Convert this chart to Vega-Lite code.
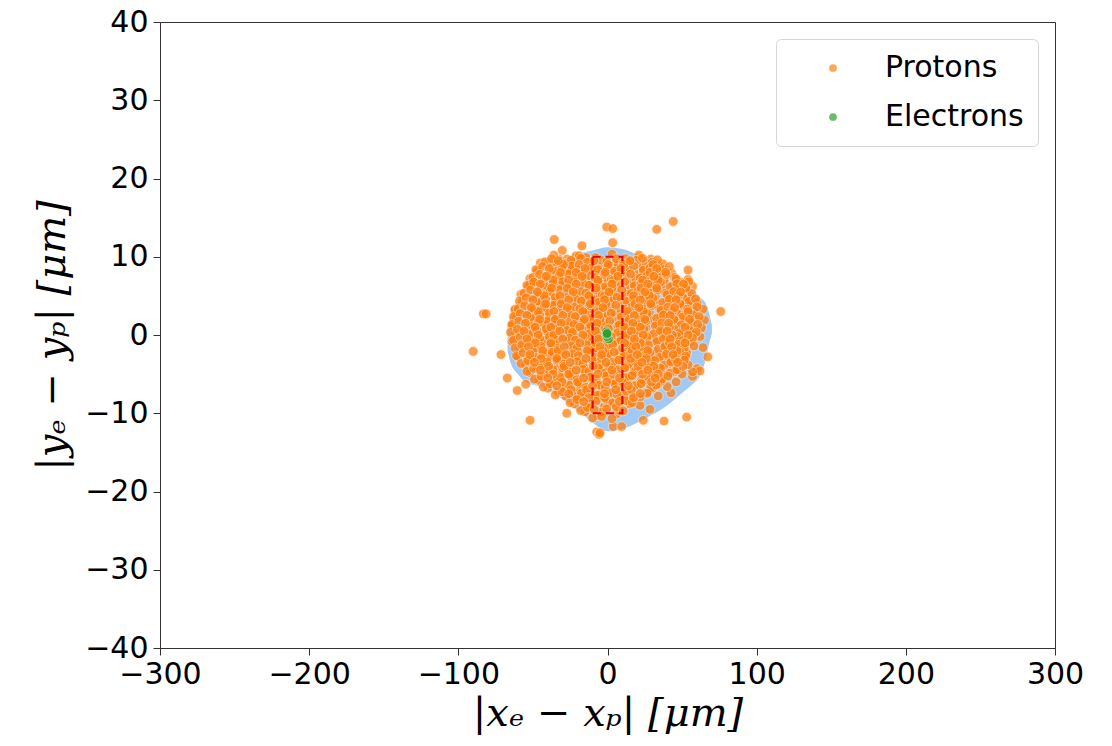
{
  "$schema": "https://vega.github.io/schema/vega-lite/v6.json",
  "width": 895,
  "height": 626,
  "autosize": "none",
  "padding": {"left": 160, "top": 22, "right": 57, "bottom": 98},
  "background": "white",
  "datasets": {
    "kde": [
      {"bx": -67, "top": 1.0, "bot": -2.0},
      {"bx": -65, "top": 2.5, "bot": -3.5},
      {"bx": -60, "top": 4.5, "bot": -5.0},
      {"bx": -55, "top": 6.0, "bot": -6.0},
      {"bx": -47, "top": 7.2, "bot": -6.5},
      {"bx": -40, "top": 8.2, "bot": -7.0},
      {"bx": -32, "top": 9.3, "bot": -8.0},
      {"bx": -25, "top": 10.2, "bot": -9.0},
      {"bx": -18, "top": 10.5, "bot": -10.0},
      {"bx": -10, "top": 10.8, "bot": -11.2},
      {"bx": 0, "top": 11.2, "bot": -12.3},
      {"bx": 10, "top": 11.0, "bot": -12.0},
      {"bx": 20, "top": 10.3, "bot": -11.2},
      {"bx": 30, "top": 9.6, "bot": -10.2},
      {"bx": 40, "top": 8.4, "bot": -9.0},
      {"bx": 50, "top": 6.8, "bot": -7.4},
      {"bx": 57, "top": 5.6, "bot": -6.3},
      {"bx": 62, "top": 4.8, "bot": -5.2},
      {"bx": 66, "top": 4.0, "bot": -3.0},
      {"bx": 68.5, "top": 2.5, "bot": -0.8},
      {"bx": 70, "top": 1.2, "bot": 0.2}
    ],
    "box": [{"x1": -10, "x2": 10, "y1": -10, "y2": 10}],
    "pts": [
      {"x":-0.5,"y":13.8,"type":"Protons"},{"x":-35.7,"y":12.2,"type":"Protons"},{"x":-17.1,"y":11.4,"type":"Protons"},{"x":-30.3,"y":10.8,"type":"Protons"},{"x":-39.7,"y":9.3,"type":"Protons"},{"x":-32.5,"y":9.7,"type":"Protons"},{"x":-51.3,"y":6.5,"type":"Protons"},{"x":-83.2,"y":2.7,"type":"Protons"},{"x":-81.4,"y":2.7,"type":"Protons"},{"x":-62,"y":3.3,"type":"Protons"},{"x":-21.1,"y":10.1,"type":"Protons"},{"x":-14.4,"y":9.9,"type":"Protons"},{"x":3.5,"y":13.6,"type":"Protons"},{"x":33,"y":13.5,"type":"Protons"},{"x":44.1,"y":14.5,"type":"Protons"},{"x":3.5,"y":11.8,"type":"Protons"},{"x":54,"y":8.3,"type":"Protons"},{"x":54,"y":7.1,"type":"Protons"},{"x":75.9,"y":3.0,"type":"Protons"},{"x":33.8,"y":7.3,"type":"Protons"},{"x":45.7,"y":7.0,"type":"Protons"},{"x":45.7,"y":5.75,"type":"Protons"},{"x":-90,"y":-2.1,"type":"Protons"},{"x":-71.4,"y":-2.5,"type":"Protons"},{"x":-67.2,"y":-5.5,"type":"Protons"},{"x":-60.5,"y":-7.1,"type":"Protons"},{"x":-54.8,"y":-6.3,"type":"Protons"},{"x":-51.9,"y":-10.9,"type":"Protons"},{"x":-27.3,"y":-10,"type":"Protons"},{"x":-7.2,"y":-12.4,"type":"Protons"},{"x":-5.5,"y":-12.7,"type":"Protons"},{"x":67.2,"y":-2.8,"type":"Protons"},{"x":42.6,"y":-7.4,"type":"Protons"},{"x":28.5,"y":-9.5,"type":"Protons"},{"x":37.9,"y":-11,"type":"Protons"},{"x":53.1,"y":-10.5,"type":"Protons"},{"x":24,"y":-10.9,"type":"Protons"},{"x":3.9,"y":-11.7,"type":"Protons"},{"x":9.5,"y":-11.7,"type":"Protons"},{"x":-5,"y":-12.5,"type":"Protons"},
      {"x":62,"y":-0.2,"type":"Protons"},{"x":64,"y":-1.6,"type":"Protons"},{"x":60,"y":-4.3,"type":"Protons"},{"x":62,"y":-4.6,"type":"Protons"},{"x":57,"y":-5.3,"type":"Protons"},{"x":60,"y":4.1,"type":"Protons"},{"x":64,"y":3.3,"type":"Protons"},{"x":54,"y":4.7,"type":"Protons"},
      {"x":53,"y":-2.3,"type":"Protons"},{"x":48.6,"y":-3.2,"type":"Protons"},{"x":57,"y":-4.7,"type":"Protons"},{"x":21.8,"y":-9,"type":"Protons"},{"x":46,"y":-6,"type":"Protons"},{"x":50,"y":-5,"type":"Protons"},{"x":40,"y":-6.6,"type":"Protons"},{"x":34,"y":-7.8,"type":"Protons"},
      {"x":-36,"y":10.2,"type":"Protons"},{"x":-27,"y":9.7,"type":"Protons"},{"x":-19,"y":10.1,"type":"Protons"},{"x":-8,"y":9.9,"type":"Protons"},{"x":3,"y":10.35,"type":"Protons"},{"x":12,"y":9.75,"type":"Protons"},{"x":21,"y":10.2,"type":"Protons"},{"x":29,"y":9.7,"type":"Protons"},
      {"x":-45,"y":9.2,"type":"Protons"},{"x":-38,"y":8.7,"type":"Protons"},{"x":-34,"y":9.1,"type":"Protons"},{"x":-25,"y":8.9,"type":"Protons"},{"x":-23,"y":9.35,"type":"Protons"},{"x":-15,"y":8.75,"type":"Protons"},{"x":-8,"y":9.2,"type":"Protons"},{"x":-4,"y":8.7,"type":"Protons"},{"x":5,"y":9.1,"type":"Protons"},{"x":7,"y":8.9,"type":"Protons"},{"x":15,"y":9.35,"type":"Protons"},{"x":22,"y":8.75,"type":"Protons"},{"x":26,"y":9.2,"type":"Protons"},{"x":35,"y":8.7,"type":"Protons"},{"x":37,"y":9.1,"type":"Protons"},
      {"x":-47,"y":8.2,"type":"Protons"},{"x":-40,"y":7.7,"type":"Protons"},{"x":-36,"y":8.1,"type":"Protons"},{"x":-27,"y":7.9,"type":"Protons"},{"x":-25,"y":8.35,"type":"Protons"},{"x":-17,"y":7.75,"type":"Protons"},{"x":-10,"y":8.2,"type":"Protons"},{"x":-6,"y":7.7,"type":"Protons"},{"x":3,"y":8.1,"type":"Protons"},{"x":5,"y":7.9,"type":"Protons"},{"x":13,"y":8.35,"type":"Protons"},{"x":20,"y":7.75,"type":"Protons"},{"x":24,"y":8.2,"type":"Protons"},{"x":33,"y":7.7,"type":"Protons"},{"x":35,"y":8.1,"type":"Protons"},{"x":43,"y":7.9,"type":"Protons"},
      {"x":-52,"y":7.2,"type":"Protons"},{"x":-45,"y":6.7,"type":"Protons"},{"x":-41,"y":7.1,"type":"Protons"},{"x":-32,"y":6.9,"type":"Protons"},{"x":-30,"y":7.35,"type":"Protons"},{"x":-22,"y":6.75,"type":"Protons"},{"x":-15,"y":7.2,"type":"Protons"},{"x":-11,"y":6.7,"type":"Protons"},{"x":-2,"y":7.1,"type":"Protons"},{"x":0,"y":6.9,"type":"Protons"},{"x":8,"y":7.35,"type":"Protons"},{"x":15,"y":6.75,"type":"Protons"},{"x":19,"y":7.2,"type":"Protons"},{"x":28,"y":6.7,"type":"Protons"},{"x":30,"y":7.1,"type":"Protons"},{"x":38,"y":6.9,"type":"Protons"},{"x":45,"y":7.35,"type":"Protons"},{"x":49,"y":6.75,"type":"Protons"},
      {"x":-53,"y":6.2,"type":"Protons"},{"x":-46,"y":5.7,"type":"Protons"},{"x":-42,"y":6.1,"type":"Protons"},{"x":-33,"y":5.9,"type":"Protons"},{"x":-31,"y":6.35,"type":"Protons"},{"x":-23,"y":5.75,"type":"Protons"},{"x":-16,"y":6.2,"type":"Protons"},{"x":-12,"y":5.7,"type":"Protons"},{"x":-3,"y":6.1,"type":"Protons"},{"x":-1,"y":5.9,"type":"Protons"},{"x":7,"y":6.35,"type":"Protons"},{"x":14,"y":5.75,"type":"Protons"},{"x":18,"y":6.2,"type":"Protons"},{"x":27,"y":5.7,"type":"Protons"},{"x":29,"y":6.1,"type":"Protons"},{"x":37,"y":5.9,"type":"Protons"},{"x":44,"y":6.35,"type":"Protons"},{"x":48,"y":5.75,"type":"Protons"},{"x":57,"y":6.2,"type":"Protons"},
      {"x":-58,"y":5.2,"type":"Protons"},{"x":-51,"y":4.7,"type":"Protons"},{"x":-47,"y":5.1,"type":"Protons"},{"x":-38,"y":4.9,"type":"Protons"},{"x":-36,"y":5.35,"type":"Protons"},{"x":-28,"y":4.75,"type":"Protons"},{"x":-21,"y":5.2,"type":"Protons"},{"x":-17,"y":4.7,"type":"Protons"},{"x":-8,"y":5.1,"type":"Protons"},{"x":-6,"y":4.9,"type":"Protons"},{"x":2,"y":5.35,"type":"Protons"},{"x":9,"y":4.75,"type":"Protons"},{"x":13,"y":5.2,"type":"Protons"},{"x":22,"y":4.7,"type":"Protons"},{"x":24,"y":5.1,"type":"Protons"},{"x":32,"y":4.9,"type":"Protons"},{"x":39,"y":5.35,"type":"Protons"},{"x":43,"y":4.75,"type":"Protons"},{"x":52,"y":5.2,"type":"Protons"},{"x":54,"y":4.7,"type":"Protons"},
      {"x":-57,"y":4.2,"type":"Protons"},{"x":-50,"y":3.7,"type":"Protons"},{"x":-46,"y":4.1,"type":"Protons"},{"x":-37,"y":3.9,"type":"Protons"},{"x":-35,"y":4.35,"type":"Protons"},{"x":-27,"y":3.75,"type":"Protons"},{"x":-20,"y":4.2,"type":"Protons"},{"x":-16,"y":3.7,"type":"Protons"},{"x":-7,"y":4.1,"type":"Protons"},{"x":-5,"y":3.9,"type":"Protons"},{"x":3,"y":4.35,"type":"Protons"},{"x":10,"y":3.75,"type":"Protons"},{"x":14,"y":4.2,"type":"Protons"},{"x":23,"y":3.7,"type":"Protons"},{"x":25,"y":4.1,"type":"Protons"},{"x":33,"y":3.9,"type":"Protons"},{"x":40,"y":4.35,"type":"Protons"},{"x":44,"y":3.75,"type":"Protons"},{"x":53,"y":4.2,"type":"Protons"},{"x":55,"y":3.7,"type":"Protons"},
      {"x":-62,"y":3.2,"type":"Protons"},{"x":-55,"y":2.7,"type":"Protons"},{"x":-51,"y":3.1,"type":"Protons"},{"x":-42,"y":2.9,"type":"Protons"},{"x":-40,"y":3.35,"type":"Protons"},{"x":-32,"y":2.75,"type":"Protons"},{"x":-25,"y":3.2,"type":"Protons"},{"x":-21,"y":2.7,"type":"Protons"},{"x":-12,"y":3.1,"type":"Protons"},{"x":-10,"y":2.9,"type":"Protons"},{"x":-2,"y":3.35,"type":"Protons"},{"x":5,"y":2.75,"type":"Protons"},{"x":9,"y":3.2,"type":"Protons"},{"x":18,"y":2.7,"type":"Protons"},{"x":20,"y":3.1,"type":"Protons"},{"x":28,"y":2.9,"type":"Protons"},{"x":35,"y":3.35,"type":"Protons"},{"x":39,"y":2.75,"type":"Protons"},{"x":48,"y":3.2,"type":"Protons"},{"x":50,"y":2.7,"type":"Protons"},{"x":58,"y":3.1,"type":"Protons"},
      {"x":-61,"y":2.2,"type":"Protons"},{"x":-54,"y":1.7,"type":"Protons"},{"x":-50,"y":2.1,"type":"Protons"},{"x":-41,"y":1.9,"type":"Protons"},{"x":-39,"y":2.35,"type":"Protons"},{"x":-31,"y":1.75,"type":"Protons"},{"x":-24,"y":2.2,"type":"Protons"},{"x":-20,"y":1.7,"type":"Protons"},{"x":-11,"y":2.1,"type":"Protons"},{"x":-9,"y":1.9,"type":"Protons"},{"x":-1,"y":2.35,"type":"Protons"},{"x":6,"y":1.75,"type":"Protons"},{"x":10,"y":2.2,"type":"Protons"},{"x":19,"y":1.7,"type":"Protons"},{"x":21,"y":2.1,"type":"Protons"},{"x":29,"y":1.9,"type":"Protons"},{"x":36,"y":2.35,"type":"Protons"},{"x":40,"y":1.75,"type":"Protons"},{"x":49,"y":2.2,"type":"Protons"},{"x":51,"y":1.7,"type":"Protons"},{"x":59,"y":2.1,"type":"Protons"},{"x":65,"y":1.9,"type":"Protons"},
      {"x":-64,"y":1.2,"type":"Protons"},{"x":-57,"y":0.7,"type":"Protons"},{"x":-53,"y":1.1,"type":"Protons"},{"x":-44,"y":0.9,"type":"Protons"},{"x":-42,"y":1.35,"type":"Protons"},{"x":-34,"y":0.75,"type":"Protons"},{"x":-27,"y":1.2,"type":"Protons"},{"x":-23,"y":0.7,"type":"Protons"},{"x":-14,"y":1.1,"type":"Protons"},{"x":-12,"y":0.9,"type":"Protons"},{"x":-4,"y":1.35,"type":"Protons"},{"x":3,"y":0.75,"type":"Protons"},{"x":7,"y":1.2,"type":"Protons"},{"x":16,"y":0.7,"type":"Protons"},{"x":18,"y":1.1,"type":"Protons"},{"x":26,"y":0.9,"type":"Protons"},{"x":33,"y":1.35,"type":"Protons"},{"x":37,"y":0.75,"type":"Protons"},{"x":46,"y":1.2,"type":"Protons"},{"x":48,"y":0.7,"type":"Protons"},{"x":56,"y":1.1,"type":"Protons"},{"x":63,"y":0.9,"type":"Protons"},
      {"x":-62,"y":0.2,"type":"Protons"},{"x":-55,"y":-0.3,"type":"Protons"},{"x":-51,"y":0.1,"type":"Protons"},{"x":-42,"y":-0.1,"type":"Protons"},{"x":-40,"y":0.35,"type":"Protons"},{"x":-32,"y":-0.25,"type":"Protons"},{"x":-25,"y":0.2,"type":"Protons"},{"x":-21,"y":-0.3,"type":"Protons"},{"x":-12,"y":0.1,"type":"Protons"},{"x":-10,"y":-0.1,"type":"Protons"},{"x":-2,"y":0.35,"type":"Protons"},{"x":5,"y":-0.25,"type":"Protons"},{"x":9,"y":0.2,"type":"Protons"},{"x":18,"y":-0.3,"type":"Protons"},{"x":20,"y":0.1,"type":"Protons"},{"x":28,"y":-0.1,"type":"Protons"},{"x":35,"y":0.35,"type":"Protons"},{"x":39,"y":-0.25,"type":"Protons"},{"x":48,"y":0.2,"type":"Protons"},{"x":50,"y":-0.3,"type":"Protons"},{"x":58,"y":0.1,"type":"Protons"},
      {"x":-64,"y":-0.8,"type":"Protons"},{"x":-57,"y":-1.3,"type":"Protons"},{"x":-53,"y":-0.9,"type":"Protons"},{"x":-44,"y":-1.1,"type":"Protons"},{"x":-42,"y":-0.65,"type":"Protons"},{"x":-34,"y":-1.25,"type":"Protons"},{"x":-27,"y":-0.8,"type":"Protons"},{"x":-23,"y":-1.3,"type":"Protons"},{"x":-14,"y":-0.9,"type":"Protons"},{"x":-12,"y":-1.1,"type":"Protons"},{"x":-4,"y":-0.65,"type":"Protons"},{"x":3,"y":-1.25,"type":"Protons"},{"x":7,"y":-0.8,"type":"Protons"},{"x":16,"y":-1.3,"type":"Protons"},{"x":18,"y":-0.9,"type":"Protons"},{"x":26,"y":-1.1,"type":"Protons"},{"x":33,"y":-0.65,"type":"Protons"},{"x":37,"y":-1.25,"type":"Protons"},{"x":46,"y":-0.8,"type":"Protons"},{"x":48,"y":-1.3,"type":"Protons"},{"x":56,"y":-0.9,"type":"Protons"},
      {"x":-59,"y":-1.8,"type":"Protons"},{"x":-52,"y":-2.3,"type":"Protons"},{"x":-48,"y":-1.9,"type":"Protons"},{"x":-39,"y":-2.1,"type":"Protons"},{"x":-37,"y":-1.65,"type":"Protons"},{"x":-29,"y":-2.25,"type":"Protons"},{"x":-22,"y":-1.8,"type":"Protons"},{"x":-18,"y":-2.3,"type":"Protons"},{"x":-9,"y":-1.9,"type":"Protons"},{"x":-7,"y":-2.1,"type":"Protons"},{"x":1,"y":-1.65,"type":"Protons"},{"x":8,"y":-2.25,"type":"Protons"},{"x":12,"y":-1.8,"type":"Protons"},{"x":21,"y":-2.3,"type":"Protons"},{"x":23,"y":-1.9,"type":"Protons"},{"x":31,"y":-2.1,"type":"Protons"},{"x":38,"y":-1.65,"type":"Protons"},{"x":42,"y":-2.25,"type":"Protons"},{"x":51,"y":-1.8,"type":"Protons"},{"x":53,"y":-2.3,"type":"Protons"},
      {"x":-60,"y":-2.8,"type":"Protons"},{"x":-53,"y":-3.3,"type":"Protons"},{"x":-49,"y":-2.9,"type":"Protons"},{"x":-40,"y":-3.1,"type":"Protons"},{"x":-38,"y":-2.65,"type":"Protons"},{"x":-30,"y":-3.25,"type":"Protons"},{"x":-23,"y":-2.8,"type":"Protons"},{"x":-19,"y":-3.3,"type":"Protons"},{"x":-10,"y":-2.9,"type":"Protons"},{"x":-8,"y":-3.1,"type":"Protons"},{"x":0,"y":-2.65,"type":"Protons"},{"x":7,"y":-3.25,"type":"Protons"},{"x":11,"y":-2.8,"type":"Protons"},{"x":20,"y":-3.3,"type":"Protons"},{"x":22,"y":-2.9,"type":"Protons"},{"x":30,"y":-3.1,"type":"Protons"},{"x":37,"y":-2.65,"type":"Protons"},{"x":41,"y":-3.25,"type":"Protons"},{"x":50,"y":-2.8,"type":"Protons"},{"x":52,"y":-3.3,"type":"Protons"},
      {"x":-55,"y":-3.8,"type":"Protons"},{"x":-48,"y":-4.3,"type":"Protons"},{"x":-44,"y":-3.9,"type":"Protons"},{"x":-35,"y":-4.1,"type":"Protons"},{"x":-33,"y":-3.65,"type":"Protons"},{"x":-25,"y":-4.25,"type":"Protons"},{"x":-18,"y":-3.8,"type":"Protons"},{"x":-14,"y":-4.3,"type":"Protons"},{"x":-5,"y":-3.9,"type":"Protons"},{"x":-3,"y":-4.1,"type":"Protons"},{"x":5,"y":-3.65,"type":"Protons"},{"x":12,"y":-4.25,"type":"Protons"},{"x":16,"y":-3.8,"type":"Protons"},{"x":25,"y":-4.3,"type":"Protons"},{"x":27,"y":-3.9,"type":"Protons"},{"x":35,"y":-4.1,"type":"Protons"},{"x":42,"y":-3.65,"type":"Protons"},{"x":46,"y":-4.25,"type":"Protons"},{"x":54,"y":-3.8,"type":"Protons"},
      {"x":-52,"y":-4.8,"type":"Protons"},{"x":-45,"y":-5.3,"type":"Protons"},{"x":-41,"y":-4.9,"type":"Protons"},{"x":-32,"y":-5.1,"type":"Protons"},{"x":-30,"y":-4.65,"type":"Protons"},{"x":-22,"y":-5.25,"type":"Protons"},{"x":-15,"y":-4.8,"type":"Protons"},{"x":-11,"y":-5.3,"type":"Protons"},{"x":-2,"y":-4.9,"type":"Protons"},{"x":0,"y":-5.1,"type":"Protons"},{"x":8,"y":-4.65,"type":"Protons"},{"x":15,"y":-5.25,"type":"Protons"},{"x":19,"y":-4.8,"type":"Protons"},{"x":28,"y":-5.3,"type":"Protons"},{"x":30,"y":-4.9,"type":"Protons"},{"x":38,"y":-5.1,"type":"Protons"},{"x":45,"y":-4.65,"type":"Protons"},
      {"x":-46,"y":-5.8,"type":"Protons"},{"x":-39,"y":-6.3,"type":"Protons"},{"x":-35,"y":-5.9,"type":"Protons"},{"x":-26,"y":-6.1,"type":"Protons"},{"x":-24,"y":-5.65,"type":"Protons"},{"x":-16,"y":-6.25,"type":"Protons"},{"x":-9,"y":-5.8,"type":"Protons"},{"x":-5,"y":-6.3,"type":"Protons"},{"x":4,"y":-5.9,"type":"Protons"},{"x":6,"y":-6.1,"type":"Protons"},{"x":14,"y":-5.65,"type":"Protons"},{"x":21,"y":-6.25,"type":"Protons"},{"x":25,"y":-5.8,"type":"Protons"},{"x":34,"y":-6.3,"type":"Protons"},{"x":36,"y":-5.9,"type":"Protons"},
      {"x":-40,"y":-6.8,"type":"Protons"},{"x":-33,"y":-7.3,"type":"Protons"},{"x":-29,"y":-6.9,"type":"Protons"},{"x":-20,"y":-7.1,"type":"Protons"},{"x":-18,"y":-6.65,"type":"Protons"},{"x":-10,"y":-7.25,"type":"Protons"},{"x":-3,"y":-6.8,"type":"Protons"},{"x":1,"y":-7.3,"type":"Protons"},{"x":10,"y":-6.9,"type":"Protons"},{"x":12,"y":-7.1,"type":"Protons"},{"x":20,"y":-6.65,"type":"Protons"},{"x":27,"y":-7.25,"type":"Protons"},{"x":30,"y":-6.8,"type":"Protons"},
      {"x":-28,"y":-7.8,"type":"Protons"},{"x":-21,"y":-8.3,"type":"Protons"},{"x":-17,"y":-7.9,"type":"Protons"},{"x":-8,"y":-8.1,"type":"Protons"},{"x":-6,"y":-7.65,"type":"Protons"},{"x":2,"y":-8.25,"type":"Protons"},{"x":9,"y":-7.8,"type":"Protons"},{"x":13,"y":-8.3,"type":"Protons"},{"x":22,"y":-7.9,"type":"Protons"},
      {"x":-22,"y":-8.8,"type":"Protons"},{"x":-15,"y":-9.3,"type":"Protons"},{"x":-11,"y":-8.9,"type":"Protons"},{"x":-2,"y":-9.1,"type":"Protons"},{"x":0,"y":-8.65,"type":"Protons"},{"x":8,"y":-9.25,"type":"Protons"},{"x":15,"y":-8.8,"type":"Protons"},
      {"x":-15,"y":-9.8,"type":"Protons"},{"x":-7,"y":-10.3,"type":"Protons"},{"x":-3,"y":-9.9,"type":"Protons"},{"x":6,"y":-10.1,"type":"Protons"},{"x":8,"y":-9.65,"type":"Protons"},
      {"x":-42,"y":9.35,"type":"Protons"},{"x":-37.5,"y":9.75,"type":"Protons"},{"x":-28.5,"y":9.15,"type":"Protons"},{"x":-24.5,"y":9.55,"type":"Protons"},{"x":-18,"y":9.8,"type":"Protons"},{"x":-13.5,"y":9.3,"type":"Protons"},{"x":-4.5,"y":9.6,"type":"Protons"},{"x":-0.5,"y":9.35,"type":"Protons"},{"x":6,"y":9.75,"type":"Protons"},{"x":10.5,"y":9.15,"type":"Protons"},{"x":19.5,"y":9.55,"type":"Protons"},{"x":23.5,"y":9.8,"type":"Protons"},{"x":30,"y":9.3,"type":"Protons"},{"x":33.5,"y":9.6,"type":"Protons"},
      {"x":-48,"y":8.35,"type":"Protons"},{"x":-43.5,"y":8.75,"type":"Protons"},{"x":-34.5,"y":8.15,"type":"Protons"},{"x":-30.5,"y":8.55,"type":"Protons"},{"x":-24,"y":8.8,"type":"Protons"},{"x":-19.5,"y":8.3,"type":"Protons"},{"x":-10.5,"y":8.6,"type":"Protons"},{"x":-6.5,"y":8.35,"type":"Protons"},{"x":0,"y":8.75,"type":"Protons"},{"x":4.5,"y":8.15,"type":"Protons"},{"x":13.5,"y":8.55,"type":"Protons"},{"x":17.5,"y":8.8,"type":"Protons"},{"x":24,"y":8.3,"type":"Protons"},{"x":28.5,"y":8.6,"type":"Protons"},{"x":37.5,"y":8.35,"type":"Protons"},{"x":41.5,"y":8.75,"type":"Protons"},
      {"x":-50,"y":7.35,"type":"Protons"},{"x":-45.5,"y":7.75,"type":"Protons"},{"x":-36.5,"y":7.15,"type":"Protons"},{"x":-32.5,"y":7.55,"type":"Protons"},{"x":-26,"y":7.8,"type":"Protons"},{"x":-21.5,"y":7.3,"type":"Protons"},{"x":-12.5,"y":7.6,"type":"Protons"},{"x":-8.5,"y":7.35,"type":"Protons"},{"x":-2,"y":7.75,"type":"Protons"},{"x":2.5,"y":7.15,"type":"Protons"},{"x":11.5,"y":7.55,"type":"Protons"},{"x":15.5,"y":7.8,"type":"Protons"},{"x":22,"y":7.3,"type":"Protons"},{"x":26.5,"y":7.6,"type":"Protons"},{"x":35.5,"y":7.35,"type":"Protons"},{"x":39.5,"y":7.75,"type":"Protons"},{"x":46,"y":7.15,"type":"Protons"},
      {"x":-54,"y":6.35,"type":"Protons"},{"x":-49.5,"y":6.75,"type":"Protons"},{"x":-40.5,"y":6.15,"type":"Protons"},{"x":-36.5,"y":6.55,"type":"Protons"},{"x":-30,"y":6.8,"type":"Protons"},{"x":-25.5,"y":6.3,"type":"Protons"},{"x":-16.5,"y":6.6,"type":"Protons"},{"x":-12.5,"y":6.35,"type":"Protons"},{"x":-6,"y":6.75,"type":"Protons"},{"x":-1.5,"y":6.15,"type":"Protons"},{"x":7.5,"y":6.55,"type":"Protons"},{"x":11.5,"y":6.8,"type":"Protons"},{"x":18,"y":6.3,"type":"Protons"},{"x":22.5,"y":6.6,"type":"Protons"},{"x":31.5,"y":6.35,"type":"Protons"},{"x":35.5,"y":6.75,"type":"Protons"},{"x":42,"y":6.15,"type":"Protons"},{"x":46.5,"y":6.55,"type":"Protons"},{"x":54.5,"y":6.8,"type":"Protons"},
      {"x":-56,"y":5.35,"type":"Protons"},{"x":-51.5,"y":5.75,"type":"Protons"},{"x":-42.5,"y":5.15,"type":"Protons"},{"x":-38.5,"y":5.55,"type":"Protons"},{"x":-32,"y":5.8,"type":"Protons"},{"x":-27.5,"y":5.3,"type":"Protons"},{"x":-18.5,"y":5.6,"type":"Protons"},{"x":-14.5,"y":5.35,"type":"Protons"},{"x":-8,"y":5.75,"type":"Protons"},{"x":-3.5,"y":5.15,"type":"Protons"},{"x":5.5,"y":5.55,"type":"Protons"},{"x":9.5,"y":5.8,"type":"Protons"},{"x":16,"y":5.3,"type":"Protons"},{"x":20.5,"y":5.6,"type":"Protons"},{"x":29.5,"y":5.35,"type":"Protons"},{"x":33.5,"y":5.75,"type":"Protons"},{"x":40,"y":5.15,"type":"Protons"},{"x":44.5,"y":5.55,"type":"Protons"},{"x":53.5,"y":5.8,"type":"Protons"},{"x":56.5,"y":5.3,"type":"Protons"},
      {"x":-59,"y":4.35,"type":"Protons"},{"x":-54.5,"y":4.75,"type":"Protons"},{"x":-45.5,"y":4.15,"type":"Protons"},{"x":-41.5,"y":4.55,"type":"Protons"},{"x":-35,"y":4.8,"type":"Protons"},{"x":-30.5,"y":4.3,"type":"Protons"},{"x":-21.5,"y":4.6,"type":"Protons"},{"x":-17.5,"y":4.35,"type":"Protons"},{"x":-11,"y":4.75,"type":"Protons"},{"x":-6.5,"y":4.15,"type":"Protons"},{"x":2.5,"y":4.55,"type":"Protons"},{"x":6.5,"y":4.8,"type":"Protons"},{"x":13,"y":4.3,"type":"Protons"},{"x":17.5,"y":4.6,"type":"Protons"},{"x":26.5,"y":4.35,"type":"Protons"},{"x":30.5,"y":4.75,"type":"Protons"},{"x":37,"y":4.15,"type":"Protons"},{"x":41.5,"y":4.55,"type":"Protons"},{"x":50.5,"y":4.8,"type":"Protons"},{"x":54.5,"y":4.3,"type":"Protons"},{"x":59,"y":4.6,"type":"Protons"},
      {"x":-60,"y":3.35,"type":"Protons"},{"x":-55.5,"y":3.75,"type":"Protons"},{"x":-46.5,"y":3.15,"type":"Protons"},{"x":-42.5,"y":3.55,"type":"Protons"},{"x":-36,"y":3.8,"type":"Protons"},{"x":-31.5,"y":3.3,"type":"Protons"},{"x":-22.5,"y":3.6,"type":"Protons"},{"x":-18.5,"y":3.35,"type":"Protons"},{"x":-12,"y":3.75,"type":"Protons"},{"x":-7.5,"y":3.15,"type":"Protons"},{"x":1.5,"y":3.55,"type":"Protons"},{"x":5.5,"y":3.8,"type":"Protons"},{"x":12,"y":3.3,"type":"Protons"},{"x":16.5,"y":3.6,"type":"Protons"},{"x":25.5,"y":3.35,"type":"Protons"},{"x":29.5,"y":3.75,"type":"Protons"},{"x":36,"y":3.15,"type":"Protons"},{"x":40.5,"y":3.55,"type":"Protons"},{"x":49.5,"y":3.8,"type":"Protons"},{"x":53.5,"y":3.3,"type":"Protons"},{"x":60,"y":3.6,"type":"Protons"},
      {"x":-63,"y":2.35,"type":"Protons"},{"x":-58.5,"y":2.75,"type":"Protons"},{"x":-49.5,"y":2.15,"type":"Protons"},{"x":-45.5,"y":2.55,"type":"Protons"},{"x":-39,"y":2.8,"type":"Protons"},{"x":-34.5,"y":2.3,"type":"Protons"},{"x":-25.5,"y":2.6,"type":"Protons"},{"x":-21.5,"y":2.35,"type":"Protons"},{"x":-15,"y":2.75,"type":"Protons"},{"x":-10.5,"y":2.15,"type":"Protons"},{"x":-1.5,"y":2.55,"type":"Protons"},{"x":2.5,"y":2.8,"type":"Protons"},{"x":9,"y":2.3,"type":"Protons"},{"x":13.5,"y":2.6,"type":"Protons"},{"x":22.5,"y":2.35,"type":"Protons"},{"x":26.5,"y":2.75,"type":"Protons"},{"x":33,"y":2.15,"type":"Protons"},{"x":37.5,"y":2.55,"type":"Protons"},{"x":46.5,"y":2.8,"type":"Protons"},{"x":50.5,"y":2.3,"type":"Protons"},{"x":57,"y":2.6,"type":"Protons"},{"x":61.5,"y":2.35,"type":"Protons"},
      {"x":-64,"y":1.35,"type":"Protons"},{"x":-59.5,"y":1.75,"type":"Protons"},{"x":-50.5,"y":1.15,"type":"Protons"},{"x":-46.5,"y":1.55,"type":"Protons"},{"x":-40,"y":1.8,"type":"Protons"},{"x":-35.5,"y":1.3,"type":"Protons"},{"x":-26.5,"y":1.6,"type":"Protons"},{"x":-22.5,"y":1.35,"type":"Protons"},{"x":-16,"y":1.75,"type":"Protons"},{"x":-11.5,"y":1.15,"type":"Protons"},{"x":-2.5,"y":1.55,"type":"Protons"},{"x":1.5,"y":1.8,"type":"Protons"},{"x":8,"y":1.3,"type":"Protons"},{"x":12.5,"y":1.6,"type":"Protons"},{"x":21.5,"y":1.35,"type":"Protons"},{"x":25.5,"y":1.75,"type":"Protons"},{"x":32,"y":1.15,"type":"Protons"},{"x":36.5,"y":1.55,"type":"Protons"},{"x":45.5,"y":1.8,"type":"Protons"},{"x":49.5,"y":1.3,"type":"Protons"},{"x":56,"y":1.6,"type":"Protons"},{"x":60.5,"y":1.35,"type":"Protons"},
      {"x":-65,"y":0.35,"type":"Protons"},{"x":-60.5,"y":0.75,"type":"Protons"},{"x":-51.5,"y":0.15,"type":"Protons"},{"x":-47.5,"y":0.55,"type":"Protons"},{"x":-41,"y":0.8,"type":"Protons"},{"x":-36.5,"y":0.3,"type":"Protons"},{"x":-27.5,"y":0.6,"type":"Protons"},{"x":-23.5,"y":0.35,"type":"Protons"},{"x":-17,"y":0.75,"type":"Protons"},{"x":-12.5,"y":0.15,"type":"Protons"},{"x":-3.5,"y":0.55,"type":"Protons"},{"x":0.5,"y":0.8,"type":"Protons"},{"x":7,"y":0.3,"type":"Protons"},{"x":11.5,"y":0.6,"type":"Protons"},{"x":20.5,"y":0.35,"type":"Protons"},{"x":24.5,"y":0.75,"type":"Protons"},{"x":31,"y":0.15,"type":"Protons"},{"x":35.5,"y":0.55,"type":"Protons"},{"x":44.5,"y":0.8,"type":"Protons"},{"x":48.5,"y":0.3,"type":"Protons"},{"x":55,"y":0.6,"type":"Protons"},{"x":59.5,"y":0.35,"type":"Protons"},
      {"x":-63,"y":-0.65,"type":"Protons"},{"x":-58.5,"y":-0.25,"type":"Protons"},{"x":-49.5,"y":-0.85,"type":"Protons"},{"x":-45.5,"y":-0.45,"type":"Protons"},{"x":-39,"y":-0.2,"type":"Protons"},{"x":-34.5,"y":-0.7,"type":"Protons"},{"x":-25.5,"y":-0.4,"type":"Protons"},{"x":-21.5,"y":-0.65,"type":"Protons"},{"x":-15,"y":-0.25,"type":"Protons"},{"x":-10.5,"y":-0.85,"type":"Protons"},{"x":-1.5,"y":-0.45,"type":"Protons"},{"x":2.5,"y":-0.2,"type":"Protons"},{"x":9,"y":-0.7,"type":"Protons"},{"x":13.5,"y":-0.4,"type":"Protons"},{"x":22.5,"y":-0.65,"type":"Protons"},{"x":26.5,"y":-0.25,"type":"Protons"},{"x":33,"y":-0.85,"type":"Protons"},{"x":37.5,"y":-0.45,"type":"Protons"},{"x":46.5,"y":-0.2,"type":"Protons"},{"x":50.5,"y":-0.7,"type":"Protons"},{"x":57,"y":-0.4,"type":"Protons"},
      {"x":-62,"y":-1.65,"type":"Protons"},{"x":-57.5,"y":-1.25,"type":"Protons"},{"x":-48.5,"y":-1.85,"type":"Protons"},{"x":-44.5,"y":-1.45,"type":"Protons"},{"x":-38,"y":-1.2,"type":"Protons"},{"x":-33.5,"y":-1.7,"type":"Protons"},{"x":-24.5,"y":-1.4,"type":"Protons"},{"x":-20.5,"y":-1.65,"type":"Protons"},{"x":-14,"y":-1.25,"type":"Protons"},{"x":-9.5,"y":-1.85,"type":"Protons"},{"x":-0.5,"y":-1.45,"type":"Protons"},{"x":3.5,"y":-1.2,"type":"Protons"},{"x":10,"y":-1.7,"type":"Protons"},{"x":14.5,"y":-1.4,"type":"Protons"},{"x":23.5,"y":-1.65,"type":"Protons"},{"x":27.5,"y":-1.25,"type":"Protons"},{"x":34,"y":-1.85,"type":"Protons"},{"x":38.5,"y":-1.45,"type":"Protons"},{"x":47.5,"y":-1.2,"type":"Protons"},{"x":51.5,"y":-1.7,"type":"Protons"},{"x":58,"y":-1.4,"type":"Protons"},
      {"x":-61,"y":-2.65,"type":"Protons"},{"x":-56.5,"y":-2.25,"type":"Protons"},{"x":-47.5,"y":-2.85,"type":"Protons"},{"x":-43.5,"y":-2.45,"type":"Protons"},{"x":-37,"y":-2.2,"type":"Protons"},{"x":-32.5,"y":-2.7,"type":"Protons"},{"x":-23.5,"y":-2.4,"type":"Protons"},{"x":-19.5,"y":-2.65,"type":"Protons"},{"x":-13,"y":-2.25,"type":"Protons"},{"x":-8.5,"y":-2.85,"type":"Protons"},{"x":0.5,"y":-2.45,"type":"Protons"},{"x":4.5,"y":-2.2,"type":"Protons"},{"x":11,"y":-2.7,"type":"Protons"},{"x":15.5,"y":-2.4,"type":"Protons"},{"x":24.5,"y":-2.65,"type":"Protons"},{"x":28.5,"y":-2.25,"type":"Protons"},{"x":35,"y":-2.85,"type":"Protons"},{"x":39.5,"y":-2.45,"type":"Protons"},{"x":48.5,"y":-2.2,"type":"Protons"},{"x":52.5,"y":-2.7,"type":"Protons"},
      {"x":-58,"y":-3.65,"type":"Protons"},{"x":-53.5,"y":-3.25,"type":"Protons"},{"x":-44.5,"y":-3.85,"type":"Protons"},{"x":-40.5,"y":-3.45,"type":"Protons"},{"x":-34,"y":-3.2,"type":"Protons"},{"x":-29.5,"y":-3.7,"type":"Protons"},{"x":-20.5,"y":-3.4,"type":"Protons"},{"x":-16.5,"y":-3.65,"type":"Protons"},{"x":-10,"y":-3.25,"type":"Protons"},{"x":-5.5,"y":-3.85,"type":"Protons"},{"x":3.5,"y":-3.45,"type":"Protons"},{"x":7.5,"y":-3.2,"type":"Protons"},{"x":14,"y":-3.7,"type":"Protons"},{"x":18.5,"y":-3.4,"type":"Protons"},{"x":27.5,"y":-3.65,"type":"Protons"},{"x":31.5,"y":-3.25,"type":"Protons"},{"x":38,"y":-3.85,"type":"Protons"},{"x":42.5,"y":-3.45,"type":"Protons"},{"x":51.5,"y":-3.2,"type":"Protons"},
      {"x":-54,"y":-4.65,"type":"Protons"},{"x":-49.5,"y":-4.25,"type":"Protons"},{"x":-40.5,"y":-4.85,"type":"Protons"},{"x":-36.5,"y":-4.45,"type":"Protons"},{"x":-30,"y":-4.2,"type":"Protons"},{"x":-25.5,"y":-4.7,"type":"Protons"},{"x":-16.5,"y":-4.4,"type":"Protons"},{"x":-12.5,"y":-4.65,"type":"Protons"},{"x":-6,"y":-4.25,"type":"Protons"},{"x":-1.5,"y":-4.85,"type":"Protons"},{"x":7.5,"y":-4.45,"type":"Protons"},{"x":11.5,"y":-4.2,"type":"Protons"},{"x":18,"y":-4.7,"type":"Protons"},{"x":22.5,"y":-4.4,"type":"Protons"},{"x":31.5,"y":-4.65,"type":"Protons"},{"x":35.5,"y":-4.25,"type":"Protons"},{"x":42,"y":-4.85,"type":"Protons"},{"x":46.5,"y":-4.45,"type":"Protons"},
      {"x":-49,"y":-5.65,"type":"Protons"},{"x":-44.5,"y":-5.25,"type":"Protons"},{"x":-35.5,"y":-5.85,"type":"Protons"},{"x":-31.5,"y":-5.45,"type":"Protons"},{"x":-25,"y":-5.2,"type":"Protons"},{"x":-20.5,"y":-5.7,"type":"Protons"},{"x":-11.5,"y":-5.4,"type":"Protons"},{"x":-7.5,"y":-5.65,"type":"Protons"},{"x":-1,"y":-5.25,"type":"Protons"},{"x":3.5,"y":-5.85,"type":"Protons"},{"x":12.5,"y":-5.45,"type":"Protons"},{"x":16.5,"y":-5.2,"type":"Protons"},{"x":23,"y":-5.7,"type":"Protons"},{"x":27.5,"y":-5.4,"type":"Protons"},{"x":36.5,"y":-5.65,"type":"Protons"},{"x":40.5,"y":-5.25,"type":"Protons"},
      {"x":-43,"y":-6.65,"type":"Protons"},{"x":-38.5,"y":-6.25,"type":"Protons"},{"x":-29.5,"y":-6.85,"type":"Protons"},{"x":-25.5,"y":-6.45,"type":"Protons"},{"x":-19,"y":-6.2,"type":"Protons"},{"x":-14.5,"y":-6.7,"type":"Protons"},{"x":-5.5,"y":-6.4,"type":"Protons"},{"x":-1.5,"y":-6.65,"type":"Protons"},{"x":5,"y":-6.25,"type":"Protons"},{"x":9.5,"y":-6.85,"type":"Protons"},{"x":18.5,"y":-6.45,"type":"Protons"},{"x":22.5,"y":-6.2,"type":"Protons"},{"x":29,"y":-6.7,"type":"Protons"},{"x":32.5,"y":-6.4,"type":"Protons"},
      {"x":-35,"y":-7.65,"type":"Protons"},{"x":-30.5,"y":-7.25,"type":"Protons"},{"x":-21.5,"y":-7.85,"type":"Protons"},{"x":-17.5,"y":-7.45,"type":"Protons"},{"x":-11,"y":-7.2,"type":"Protons"},{"x":-6.5,"y":-7.7,"type":"Protons"},{"x":2.5,"y":-7.4,"type":"Protons"},{"x":6.5,"y":-7.65,"type":"Protons"},{"x":13,"y":-7.25,"type":"Protons"},{"x":17.5,"y":-7.85,"type":"Protons"},{"x":26.5,"y":-7.45,"type":"Protons"},
      {"x":-25,"y":-8.65,"type":"Protons"},{"x":-20.5,"y":-8.25,"type":"Protons"},{"x":-11.5,"y":-8.85,"type":"Protons"},{"x":-7.5,"y":-8.45,"type":"Protons"},{"x":-1,"y":-8.2,"type":"Protons"},{"x":3.5,"y":-8.7,"type":"Protons"},{"x":12.5,"y":-8.4,"type":"Protons"},{"x":16.5,"y":-8.65,"type":"Protons"},
      {"x":-18,"y":-9.65,"type":"Protons"},{"x":-13.5,"y":-9.25,"type":"Protons"},{"x":-4.5,"y":-9.85,"type":"Protons"},{"x":-0.5,"y":-9.45,"type":"Protons"},{"x":6,"y":-9.2,"type":"Protons"},{"x":10.5,"y":-9.7,"type":"Protons"},
      {"x":-10,"y":-10.6,"type":"Protons"},{"x":-4,"y":-10.4,"type":"Protons"},{"x":3,"y":-10.7,"type":"Protons"},
      {"x":-29.5,"y":9.0,"type":"Protons"},{"x":0.5,"y":9.0,"type":"Protons"},{"x":30.5,"y":9.0,"type":"Protons"},{"x":-19,"y":9.0,"type":"Protons"},{"x":11,"y":9.0,"type":"Protons"},
      {"x":-31.5,"y":8.0,"type":"Protons"},{"x":-1.5,"y":8.0,"type":"Protons"},{"x":28.5,"y":8.0,"type":"Protons"},{"x":-21,"y":8.0,"type":"Protons"},{"x":9,"y":8.0,"type":"Protons"},{"x":39,"y":8.0,"type":"Protons"},
      {"x":-36.5,"y":7.0,"type":"Protons"},{"x":-6.5,"y":7.0,"type":"Protons"},{"x":23.5,"y":7.0,"type":"Protons"},{"x":-26,"y":7.0,"type":"Protons"},{"x":4,"y":7.0,"type":"Protons"},{"x":34,"y":7.0,"type":"Protons"},
      {"x":-37.5,"y":6.0,"type":"Protons"},{"x":-7.5,"y":6.0,"type":"Protons"},{"x":22.5,"y":6.0,"type":"Protons"},{"x":52.5,"y":6.0,"type":"Protons"},{"x":-27,"y":6.0,"type":"Protons"},{"x":3,"y":6.0,"type":"Protons"},{"x":33,"y":6.0,"type":"Protons"},
      {"x":-42.5,"y":5.0,"type":"Protons"},{"x":-12.5,"y":5.0,"type":"Protons"},{"x":17.5,"y":5.0,"type":"Protons"},{"x":47.5,"y":5.0,"type":"Protons"},{"x":-32,"y":5.0,"type":"Protons"},{"x":-2,"y":5.0,"type":"Protons"},{"x":28,"y":5.0,"type":"Protons"},
      {"x":-41.5,"y":4.0,"type":"Protons"},{"x":-11.5,"y":4.0,"type":"Protons"},{"x":18.5,"y":4.0,"type":"Protons"},{"x":48.5,"y":4.0,"type":"Protons"},{"x":-31,"y":4.0,"type":"Protons"},{"x":-1,"y":4.0,"type":"Protons"},{"x":29,"y":4.0,"type":"Protons"},
      {"x":-46.5,"y":3.0,"type":"Protons"},{"x":-16.5,"y":3.0,"type":"Protons"},{"x":13.5,"y":3.0,"type":"Protons"},{"x":43.5,"y":3.0,"type":"Protons"},{"x":-36,"y":3.0,"type":"Protons"},{"x":-6,"y":3.0,"type":"Protons"},{"x":24,"y":3.0,"type":"Protons"},{"x":54,"y":3.0,"type":"Protons"},
      {"x":-45.5,"y":2.0,"type":"Protons"},{"x":-15.5,"y":2.0,"type":"Protons"},{"x":14.5,"y":2.0,"type":"Protons"},{"x":44.5,"y":2.0,"type":"Protons"},{"x":-35,"y":2.0,"type":"Protons"},{"x":-5,"y":2.0,"type":"Protons"},{"x":25,"y":2.0,"type":"Protons"},{"x":55,"y":2.0,"type":"Protons"},
      {"x":-48.5,"y":1.0,"type":"Protons"},{"x":-18.5,"y":1.0,"type":"Protons"},{"x":11.5,"y":1.0,"type":"Protons"},{"x":41.5,"y":1.0,"type":"Protons"},{"x":-38,"y":1.0,"type":"Protons"},{"x":-8,"y":1.0,"type":"Protons"},{"x":22,"y":1.0,"type":"Protons"},{"x":52,"y":1.0,"type":"Protons"},
      {"x":-46.5,"y":0.0,"type":"Protons"},{"x":-16.5,"y":0.0,"type":"Protons"},{"x":13.5,"y":0.0,"type":"Protons"},{"x":43.5,"y":0.0,"type":"Protons"},{"x":-36,"y":0.0,"type":"Protons"},{"x":-6,"y":0.0,"type":"Protons"},{"x":24,"y":0.0,"type":"Protons"},{"x":54,"y":0.0,"type":"Protons"},
      {"x":-48.5,"y":-1.0,"type":"Protons"},{"x":-18.5,"y":-1.0,"type":"Protons"},{"x":11.5,"y":-1.0,"type":"Protons"},{"x":41.5,"y":-1.0,"type":"Protons"},{"x":-38,"y":-1.0,"type":"Protons"},{"x":-8,"y":-1.0,"type":"Protons"},{"x":22,"y":-1.0,"type":"Protons"},{"x":52,"y":-1.0,"type":"Protons"},
      {"x":-43.5,"y":-2.0,"type":"Protons"},{"x":-13.5,"y":-2.0,"type":"Protons"},{"x":16.5,"y":-2.0,"type":"Protons"},{"x":46.5,"y":-2.0,"type":"Protons"},{"x":-33,"y":-2.0,"type":"Protons"},{"x":-3,"y":-2.0,"type":"Protons"},{"x":27,"y":-2.0,"type":"Protons"},
      {"x":-44.5,"y":-3.0,"type":"Protons"},{"x":-14.5,"y":-3.0,"type":"Protons"},{"x":15.5,"y":-3.0,"type":"Protons"},{"x":45.5,"y":-3.0,"type":"Protons"},{"x":-34,"y":-3.0,"type":"Protons"},{"x":-4,"y":-3.0,"type":"Protons"},{"x":26,"y":-3.0,"type":"Protons"},
      {"x":-39.5,"y":-4.0,"type":"Protons"},{"x":-9.5,"y":-4.0,"type":"Protons"},{"x":20.5,"y":-4.0,"type":"Protons"},{"x":50.5,"y":-4.0,"type":"Protons"},{"x":-29,"y":-4.0,"type":"Protons"},{"x":1,"y":-4.0,"type":"Protons"},{"x":31,"y":-4.0,"type":"Protons"},
      {"x":-36.5,"y":-5.0,"type":"Protons"},{"x":-6.5,"y":-5.0,"type":"Protons"},{"x":23.5,"y":-5.0,"type":"Protons"},{"x":-26,"y":-5.0,"type":"Protons"},{"x":4,"y":-5.0,"type":"Protons"},{"x":34,"y":-5.0,"type":"Protons"},
      {"x":-30.5,"y":-6.0,"type":"Protons"},{"x":-0.5,"y":-6.0,"type":"Protons"},{"x":29.5,"y":-6.0,"type":"Protons"},{"x":-20,"y":-6.0,"type":"Protons"},{"x":10,"y":-6.0,"type":"Protons"},
      {"x":-24.5,"y":-7.0,"type":"Protons"},{"x":5.5,"y":-7.0,"type":"Protons"},{"x":-14,"y":-7.0,"type":"Protons"},{"x":16,"y":-7.0,"type":"Protons"},
      {"x":-12.5,"y":-8.0,"type":"Protons"},{"x":17.5,"y":-8.0,"type":"Protons"},{"x":-2,"y":-8.0,"type":"Protons"},
      {"x":-33,"y":9.5,"type":"Protons"},{"x":-9,"y":9.5,"type":"Protons"},{"x":15,"y":9.5,"type":"Protons"},
      {"x":-39,"y":8.5,"type":"Protons"},{"x":-15,"y":8.5,"type":"Protons"},{"x":9,"y":8.5,"type":"Protons"},{"x":33,"y":8.5,"type":"Protons"},
      {"x":-41,"y":7.5,"type":"Protons"},{"x":-17,"y":7.5,"type":"Protons"},{"x":7,"y":7.5,"type":"Protons"},{"x":31,"y":7.5,"type":"Protons"},
      {"x":-45,"y":6.5,"type":"Protons"},{"x":-21,"y":6.5,"type":"Protons"},{"x":3,"y":6.5,"type":"Protons"},{"x":27,"y":6.5,"type":"Protons"},{"x":51,"y":6.5,"type":"Protons"},
      {"x":-47,"y":5.5,"type":"Protons"},{"x":-23,"y":5.5,"type":"Protons"},{"x":1,"y":5.5,"type":"Protons"},{"x":25,"y":5.5,"type":"Protons"},{"x":49,"y":5.5,"type":"Protons"},
      {"x":-50,"y":4.5,"type":"Protons"},{"x":-26,"y":4.5,"type":"Protons"},{"x":-2,"y":4.5,"type":"Protons"},{"x":22,"y":4.5,"type":"Protons"},{"x":46,"y":4.5,"type":"Protons"},
      {"x":-51,"y":3.5,"type":"Protons"},{"x":-27,"y":3.5,"type":"Protons"},{"x":-3,"y":3.5,"type":"Protons"},{"x":21,"y":3.5,"type":"Protons"},{"x":45,"y":3.5,"type":"Protons"},
      {"x":-54,"y":2.5,"type":"Protons"},{"x":-30,"y":2.5,"type":"Protons"},{"x":-6,"y":2.5,"type":"Protons"},{"x":18,"y":2.5,"type":"Protons"},{"x":42,"y":2.5,"type":"Protons"},
      {"x":-55,"y":1.5,"type":"Protons"},{"x":-31,"y":1.5,"type":"Protons"},{"x":-7,"y":1.5,"type":"Protons"},{"x":17,"y":1.5,"type":"Protons"},{"x":41,"y":1.5,"type":"Protons"},
      {"x":-56,"y":0.5,"type":"Protons"},{"x":-32,"y":0.5,"type":"Protons"},{"x":-8,"y":0.5,"type":"Protons"},{"x":16,"y":0.5,"type":"Protons"},{"x":40,"y":0.5,"type":"Protons"},
      {"x":-54,"y":-0.5,"type":"Protons"},{"x":-30,"y":-0.5,"type":"Protons"},{"x":-6,"y":-0.5,"type":"Protons"},{"x":18,"y":-0.5,"type":"Protons"},{"x":42,"y":-0.5,"type":"Protons"},
      {"x":-53,"y":-1.5,"type":"Protons"},{"x":-29,"y":-1.5,"type":"Protons"},{"x":-5,"y":-1.5,"type":"Protons"},{"x":19,"y":-1.5,"type":"Protons"},{"x":43,"y":-1.5,"type":"Protons"},
      {"x":-52,"y":-2.5,"type":"Protons"},{"x":-28,"y":-2.5,"type":"Protons"},{"x":-4,"y":-2.5,"type":"Protons"},{"x":20,"y":-2.5,"type":"Protons"},{"x":44,"y":-2.5,"type":"Protons"},
      {"x":-49,"y":-3.5,"type":"Protons"},{"x":-25,"y":-3.5,"type":"Protons"},{"x":-1,"y":-3.5,"type":"Protons"},{"x":23,"y":-3.5,"type":"Protons"},{"x":47,"y":-3.5,"type":"Protons"},
      {"x":-45,"y":-4.5,"type":"Protons"},{"x":-21,"y":-4.5,"type":"Protons"},{"x":3,"y":-4.5,"type":"Protons"},{"x":27,"y":-4.5,"type":"Protons"},
      {"x":-40,"y":-5.5,"type":"Protons"},{"x":-16,"y":-5.5,"type":"Protons"},{"x":8,"y":-5.5,"type":"Protons"},{"x":32,"y":-5.5,"type":"Protons"},
      {"x":-34,"y":-6.5,"type":"Protons"},{"x":-10,"y":-6.5,"type":"Protons"},{"x":14,"y":-6.5,"type":"Protons"},
      {"x":-26,"y":-7.5,"type":"Protons"},{"x":-2,"y":-7.5,"type":"Protons"},{"x":22,"y":-7.5,"type":"Protons"},
      {"x":-16,"y":-8.5,"type":"Protons"},{"x":8,"y":-8.5,"type":"Protons"},
      {"x":-9,"y":-9.5,"type":"Protons"},
      {"x":-0.8,"y":0.4,"type":"Electrons"},{"x":0.6,"y":-0.5,"type":"Electrons"},{"x":-0.3,"y":-0.2,"type":"Electrons"},{"x":-0.5,"y":0.1,"type":"Electrons"},{"x":-0.2,"y":0.2,"type":"Electrons"}
    ]
  },
  "layer": [
    {
      "data": {"name": "kde"},
      "mark": {"type": "area", "interpolate": "monotone", "color": "#a1c9f4", "opacity": 1},
      "encoding": {
        "x": {"field": "bx", "type": "quantitative", "scale": {"domain": [-300, 300], "nice": false, "zero": false}, "axis": {"values": [-300, -200, -100, 0, 100, 200, 300], "title": "|xₑ − xₚ| [μm]", "labelPadding": 4, "titlePadding": 4, "labelFlush": false}},
        "y": {"field": "top", "type": "quantitative", "scale": {"domain": [-40, 40], "nice": false, "zero": false}, "axis": {"values": [-40, -30, -20, -10, 0, 10, 20, 30, 40], "title": "|yₑ − yₚ| [μm]", "labelPadding": 5, "titlePadding": 12, "labelFlush": false}},
        "y2": {"field": "bot"}
      }
    },
    {
      "data": {"name": "pts"},
      "mark": {"type": "point", "shape": "circle", "filled": true, "size": 95, "opacity": 0.75, "stroke": "white", "strokeWidth": 0.8, "strokeOpacity": 0.8},
      "encoding": {
        "x": {"field": "x", "type": "quantitative"},
        "y": {"field": "y", "type": "quantitative"},
        "color": {"field": "type", "type": "nominal", "sort": ["Protons", "Electrons"], "scale": {"domain": ["Protons", "Electrons"], "range": ["#ff7f0e", "#2ca02c"]}, "legend": {"title": null, "symbolOpacity": 0.7, "symbolStrokeWidth": 0}}
      }
    },
    {
      "data": {"name": "box"},
      "mark": {"type": "rect", "filled": false, "stroke": "#e8000b", "strokeWidth": 2.2, "strokeDash": [8, 5]},
      "encoding": {
        "x": {"field": "x1", "type": "quantitative"},
        "x2": {"field": "x2"},
        "y": {"field": "y1", "type": "quantitative"},
        "y2": {"field": "y2"}
      }
    }
  ],
  "resolve": {"scale": {"x": "shared", "y": "shared"}},
  "config": {
    "view": {"stroke": "#333", "strokeWidth": 1},
    "axis": {"grid": false, "labelFont": "DejaVu Sans", "labelFontSize": 30, "labelColor": "black", "domainColor": "#333", "tickColor": "#333", "tickSize": 7, "titleFont": "DejaVu Serif", "titleFontSize": 40, "titleFontWeight": "normal", "titleFontStyle": "italic", "titleColor": "black"},
    "legend": {"orient": "top-right", "offset": 17, "strokeColor": "#d6d6d6", "cornerRadius": 5, "fillColor": "white", "padding": 14, "labelFont": "DejaVu Sans", "labelFontSize": 30, "labelColor": "black", "symbolSize": 60, "symbolType": "circle", "rowPadding": 19, "symbolOffset": 28, "labelOffset": 37}
  }
}
